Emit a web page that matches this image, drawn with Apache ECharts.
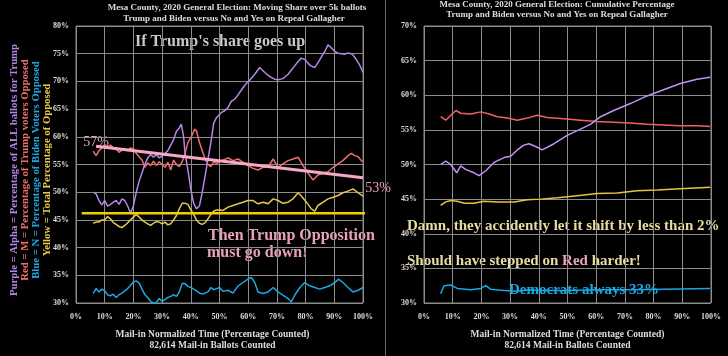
<!DOCTYPE html>
<html><head><meta charset="utf-8">
<script src="https://cdn.jsdelivr.net/npm/echarts@6/dist/echarts.min.js"></script>
<style>html,body{margin:0;padding:0;background:#000;}#c{width:728px;height:356px;}</style>
</head><body><div id="c"></div>
<script>
// ---------- Data ----------
const xTicks = [0,10,20,30,40,50,60,70,80,90,100];
// Left panel: moving share over 5k ballots  [percentage counted, percent]
const movPurple = [[6,50.0],[7,49.7],[8,48.5],[9,47.7],[10,48.5],[11,47.5],[12,47.8],[13,48.2],[14,48.5],[15,47.8],[16,48.8],[17,48.5],[18,47.5],[19,46.2],[20,47.5],[21,50],[22,52],[23,53.5],[24,55],[25,56.2],[26,56.8],[27,56.3],[28,56.8],[29,56.2],[30,56.5],[31,57],[32,57.5],[33,58.5],[34,59.5],[35,61],[36,61.6],[36.7,62.3],[37.5,60],[38,57],[39,54],[40,50.5],[41,48],[42,47],[43,47.5],[44,50],[45,53],[46,56],[47,59],[48,62.5],[49,63.5],[50.7,64.4],[51.8,64.7],[53,65.3],[54.1,66.4],[55.3,66.8],[56.5,67.6],[57.7,68.5],[58.8,69.3],[60.5,70.2],[62.3,71.3],[64,72.5],[65.8,71.6],[67,71.1],[68.1,70.7],[69.2,70.4],[70.4,70.3],[72.1,70.5],[73.9,71.3],[75,72],[76.2,72.8],[77.4,73.6],[78.5,74.2],[79.9,73.9],[80.8,73.3],[81.8,72.8],[83.2,72.5],[84.1,73.2],[84.9,73.9],[85.8,74.7],[86.7,75.4],[87.8,76.6],[88.7,76.2],[89.6,75.7],[90.5,75.3],[91.3,75.1],[92.5,75],[93.6,74.9],[94.5,75.1],[95.4,75.1],[96.5,74.8],[97.7,73.9],[98.8,73],[100,71.6]];
const movRed = [[6,57.4],[7,56.6],[8,57.5],[9,58],[10,58.6],[11,58.2],[12,58.5],[13,58],[14,57.8],[15,57.2],[16,57.6],[17,57.8],[18,57.5],[19,58],[20,57.8],[21,57],[22,56.4],[23,55.8],[24,54.5],[25,55.3],[26,54.8],[27,55.6],[28,54.8],[29,55.5],[30,55],[31,54.5],[32,55.4],[33,54],[34,55.8],[35,55],[36,54.6],[37,55.5],[38,57],[39,59],[40,59.8],[41,61],[41.5,61.4],[42,61],[43,59],[44,57.5],[45,56],[46,55],[47,54.6],[48,55.5],[49,55.2],[50,55.5],[51.2,55.8],[53,56.2],[54.7,55.7],[56.5,56],[58.2,55.4],[59.9,54.8],[61.7,54.3],[63.4,54],[65.2,54.5],[66.9,54.5],[68.7,56],[70.4,54.5],[72.1,55.1],[73.9,55.7],[75.6,56],[77.4,56.3],[79.1,54.8],[80.9,53.4],[82.6,52.2],[84.3,53.1],[86.1,53.4],[87.8,53.7],[89.6,54.5],[91.3,55.1],[93,55.7],[94.8,56.6],[95.9,57],[97.1,56.6],[98.3,56.4],[99.4,55.7],[100,55.5]];
const movYellow = [[6,44.4],[7,44.6],[8,44.6],[9,45],[10,45],[11,45.6],[12,45.2],[13,44.5],[14,44.2],[15,43.8],[16,43.6],[17,44],[18,44.5],[19,45],[20,45.5],[21,46],[22,45.5],[23,45],[24,44.6],[25,44.3],[26,44],[27,44.4],[28,44.7],[29,44.6],[30,44.3],[31,44.6],[32,44.1],[33,44.3],[34,45],[35,45.8],[36,47],[37,48],[38,48],[39,47.8],[40,46.8],[41,46],[42,45],[43,44.4],[44,44.2],[45,44.5],[46,45.2],[47,46],[48,46.6],[49,46.8],[50,46.8],[51.2,46.7],[53,47.3],[54.7,47.6],[56.5,47.9],[58.2,48.2],[59.9,48.5],[61.7,48.5],[63.4,47.9],[65.2,48.2],[66.9,47.9],[68.7,48.8],[70.4,48.5],[72.1,48],[73.9,48.2],[75.6,48.8],[77.4,49.9],[78.5,49.3],[80.3,48.2],[82,47],[83.2,46.6],[84.3,47.6],[86.1,48.2],[87.8,48.8],[89.6,49.1],[91.3,49.4],[93,49.9],[94.8,50.2],[96.5,50.6],[98.3,49.9],[100,49.3]];
const movBlue = [[6,31.7],[7,32.6],[8,32],[9,32.5],[10,32.2],[11,31.5],[12,31.3],[13,31.6],[14,31],[15,31.5],[16,31.8],[17,32.2],[18,32.6],[19,33.2],[20,33.8],[21,34],[22,33.6],[23,32.5],[24,31.5],[25,31],[26,30.3],[27,30],[28,30.1],[29,30.8],[30,30.3],[31,30.6],[32,31],[33,31.2],[34,31.5],[35,31.2],[36,32],[37,33.5],[38,33.5],[39,33],[40,32.8],[41,32.5],[42,32.2],[43,31.8],[44,31.6],[45,31.8],[46,32],[47,32.8],[48,32.4],[49,32.6],[50,32.8],[51.2,32.1],[53,32.3],[54.7,31.8],[56.5,33.1],[58.2,33.7],[59.9,34.3],[61.1,34.6],[62.3,33.7],[63.4,32],[65.2,31.7],[66.9,32],[68.7,32.8],[70.4,32],[72.1,31.4],[73.9,30.8],[75,30.2],[76.2,31.4],[78,32.8],[79.7,33.7],[81.4,33.1],[83.2,32.8],[84.9,32.5],[86.7,32.8],[88.4,33.1],[90.2,33.7],[91.5,34.3],[93,33.7],[94.8,32.8],[96.5,32],[98.3,32.3],[100,32.8]];
const trendPink = [[7,58.3],[100,52.6]];
const levelYellow = [[2,46.2],[101.5,46.2]];
// Right panel: cumulative percentage
const cumPurple = [[5.8,50.0],[7.6,50.5],[9.3,50],[11.4,48.8],[12.8,49.8],[14.5,49.3],[17.4,48.8],[19.2,48.4],[21.5,49.1],[24.4,50.3],[27.9,51],[30.2,51.2],[32.5,52.1],[34.8,52.8],[36.6,53],[38.9,52.6],[41.2,52.1],[45.3,53],[49.9,54.2],[54.5,55.1],[58,55.8],[61.5,56.9],[66.1,57.8],[71.9,58.8],[77.7,59.9],[83.5,60.8],[89.3,61.7],[95.1,62.3],[99.7,62.6]];
const cumRed = [[5.8,56.9],[7.6,56.4],[9.3,57.1],[11.1,57.8],[12.8,57.4],[16.3,57.3],[19.8,57.6],[22.7,57.3],[25.6,56.9],[29.1,56.7],[32.5,56.4],[36,56.7],[39.5,57.1],[42.9,56.8],[48.7,56.6],[54.5,56.4],[60.3,56.2],[66.1,56.1],[71.9,56],[77.7,55.8],[83.5,55.7],[89.3,55.6],[95.1,55.6],[99.7,55.5]];
const cumYellow = [[5.8,44.1],[7.6,44.6],[9.3,44.8],[11.6,44.7],[14,44.4],[17.4,44.4],[20.9,44.7],[25.6,44.6],[31.4,44.6],[36,44.9],[40.7,45],[46.5,45.2],[53.4,45.5],[60.3,45.8],[67.3,45.9],[74.3,46.2],[81.2,46.3],[89.3,46.5],[99.7,46.7]];
const cumBlue = [[5.8,31.35],[7,32.5],[9.3,32.6],[11.6,32.1],[16.3,31.9],[19.8,32.1],[21.5,32.5],[23.2,32],[27.9,31.8],[32.5,31.7],[37.2,31.9],[39.5,31.8],[48.7,31.8],[60.3,31.9],[71.9,31.9],[83.5,32],[99.7,32.1]];

// ---------- Chart ----------
const SERIF = '"Liberation Serif","DejaVu Serif",serif';
const GRID_C = '#8c8c8c';
function xAx(gi,padR){return {type:'value',gridIndex:gi,min:0,max:100,interval:10,
  axisLine:{show:false},axisTick:{show:false},
  splitLine:{show:true,lineStyle:{color:GRID_C,width:1}},
  axisLabel:{formatter:'{value}%',color:'#ddd',fontFamily:SERIF,fontWeight:'bold',fontSize:8,margin:10},
  name:'Mail-in Normalized Time (Percentage Counted)\n82,614 Mail-in Ballots Counted',
  nameLocation:'middle',nameGap:26,
  nameTextStyle:{color:'#ddd',fontFamily:SERIF,fontWeight:'bold',fontSize:9.5,lineHeight:11,padding:[0,padR,0,0]}};}
function yAx(gi,max){return {type:'value',gridIndex:gi,min:30,max:max,interval:5,
  axisLine:{show:false},axisTick:{show:false},
  splitLine:{show:true,lineStyle:{color:GRID_C,width:1}},
  axisLabel:{formatter:'{value}%',color:'#ddd',fontFamily:SERIF,fontWeight:'bold',fontSize:8,margin:7}};}
function ln(data,color,xi,w){return {type:'line',xAxisIndex:xi,yAxisIndex:xi,data:data,showSymbol:false,symbol:'none',
  lineStyle:{color:color,width:w||1.5},itemStyle:{color:color},animation:false};}

const chart = echarts.init(document.getElementById('c'),null,{renderer:'canvas'});
const txt = (x,y,t,opt)=>Object.assign({type:'text',x:x,y:y,silent:true,style:Object.assign({text:t,fill:'#ddd',font:'bold 9px '+SERIF,align:'center',verticalAlign:'middle'},opt||{})});
const VF = 'bold 10.7px '+SERIF;
chart.setOption({
  backgroundColor:'#000',
  animation:false,
  grid:[{left:76,right:365,top:26,bottom:42,show:true,borderColor:GRID_C,borderWidth:1},
        {left:424,right:17,top:26,bottom:42,show:true,borderColor:GRID_C,borderWidth:1}],
  xAxis:[xAx(0,14),xAx(1,0)],
  yAxis:[yAx(0,80),yAx(1,70)],
  series:[
    ln(movBlue,'#1ea6e0',0),
    ln(movYellow,'#e6c94a',0),
    ln(movRed,'#ef6d6d',0),
    ln(movPurple,'#b585e6',0),
    Object.assign(ln(trendPink,'#f5a9c6',0,3),{clip:false}),
    Object.assign(ln(levelYellow,'#f2cf00',0,2.5),{clip:false}),
    ln(cumBlue,'#14a8e8',1),
    ln(cumYellow,'#e8c23e',1),
    ln(cumRed,'#f06262',1),
    ln(cumPurple,'#c192f2',1)
  ],
  graphic:[
    {type:'line',silent:true,shape:{x1:385.5,y1:0,x2:385.5,y2:356},style:{stroke:'#666',lineWidth:1}},
    txt(237,8,'Mesa County, 2020 General Election: Moving Share over 5k ballots'),
    txt(234,19,'Trump and Biden versus No and Yes on Repeal Gallagher'),
    txt(557,5,'Mesa County, 2020 General Election: Cumulative Percentage'),
    txt(557,15,'Trump and Biden versus No and Yes on Repeal Gallagher'),
    txt(220,42,"If Trump's share goes up",{fill:'#c8c8c8',font:'bold 16px '+SERIF}),
    txt(96,142,'57%',{fill:'#e9a0bd',font:'14px '+SERIF}),
    txt(378,188,'53%',{fill:'#e9a0bd',font:'14px '+SERIF}),
    txt(208,236,'Then Trump Opposition',{fill:'#e9a0bd',font:'bold 16px '+SERIF,align:'left'}),
    txt(207,253,'must go down!',{fill:'#e9a0bd',font:'bold 16px '+SERIF,align:'left'}),
    txt(407,226,'Damn, they accidently let it shift by less than 2%',{fill:'#e8dca2',font:'bold 15px '+SERIF,align:'left'}),
    {type:'text',x:407,y:261,silent:true,style:{text:'Should have stepped on {r|Red} harder!',fill:'#e8dca2',font:'bold 15px '+SERIF,align:'left',verticalAlign:'middle',rich:{r:{fill:'#e9a0bd',font:'bold 15px '+SERIF}}}},
    txt(509,290,'Democrats always 33%',{fill:'#1ea6e0',font:'bold 15px '+SERIF,align:'left'}),
    txt(14,170,'Purple = Alpha = Percentage of ALL ballots for Trump',{fill:'#b585e6',font:VF}),
    txt(25,170,'Red = M = Percentage of Trump voters Opposed',{fill:'#ef6d6d',font:VF}),
    txt(36,170,'Blue = N = Percentage of Biden Voters Opposed',{fill:'#1ea6e0',font:VF}),
    txt(47,170,'Yellow = Total Percentage of Opposed',{fill:'#e6c94a',font:VF})
  ].map(g=>{ if(g.type==='text' && g.x<60){ g.rotation=Math.PI/2; } return g; })
});
</script></body></html>
